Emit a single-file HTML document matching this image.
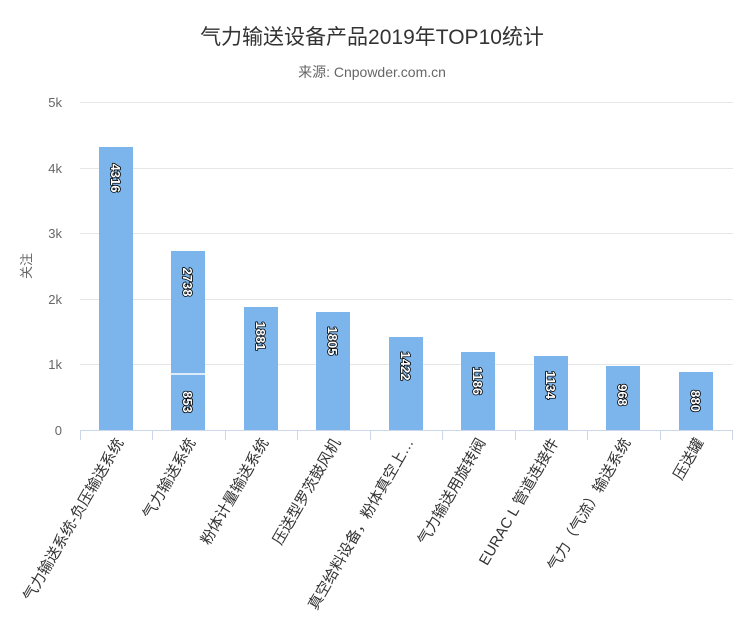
<!DOCTYPE html>
<html><head><meta charset="utf-8"><style>
html,body{margin:0;padding:0;background:#fff;}
text{font-family:"Liberation Sans","Noto Sans CJK SC",sans-serif;}
.v{font-size:13px;font-weight:bold;fill:#fff;stroke:#000;stroke-width:1.6px;paint-order:stroke;stroke-linejoin:round;}
.c{font-size:15px;fill:#333;}
.y{font-size:13px;fill:#666;}
</style></head><body>
<svg width="744" height="623" xmlns="http://www.w3.org/2000/svg">
<text x="372" y="44" text-anchor="middle" style="font-size:21px;fill:#333">气力输送设备产品2019年TOP10统计</text>
<text x="372" y="77" text-anchor="middle" style="font-size:14px;fill:#666">来源: Cnpowder.com.cn</text>
<g stroke="#e6e6e6" stroke-width="1">
<line x1="80" x2="733" y1="102.5" y2="102.5"/>
<line x1="80" x2="733" y1="168.5" y2="168.5"/>
<line x1="80" x2="733" y1="233.5" y2="233.5"/>
<line x1="80" x2="733" y1="299.5" y2="299.5"/>
<line x1="80" x2="733" y1="364.5" y2="364.5"/>
</g>
<line x1="80" x2="733" y1="430.5" y2="430.5" stroke="#ccd6eb"/>
<g stroke="#ccd6eb">
<line x1="80.5" x2="80.5" y1="430" y2="440"/><line x1="152.5" x2="152.5" y1="430" y2="440"/>
<line x1="225.5" x2="225.5" y1="430" y2="440"/><line x1="297.5" x2="297.5" y1="430" y2="440"/>
<line x1="370.5" x2="370.5" y1="430" y2="440"/><line x1="442.5" x2="442.5" y1="430" y2="440"/>
<line x1="515.5" x2="515.5" y1="430" y2="440"/><line x1="587.5" x2="587.5" y1="430" y2="440"/>
<line x1="660.5" x2="660.5" y1="430" y2="440"/><line x1="732.5" x2="732.5" y1="430" y2="440"/>
</g>
<g class="y" text-anchor="end">
<text x="62" y="107">5k</text><text x="62" y="173">4k</text><text x="62" y="238">3k</text>
<text x="62" y="304">2k</text><text x="62" y="369">1k</text><text x="62" y="435">0</text>
</g>
<text transform="translate(31,266) rotate(-90)" text-anchor="middle" style="font-size:13px;fill:#666">关注</text>
<g fill="#7cb5ec">
<rect x="99" y="147" width="34" height="283"/>
<rect x="171" y="251" width="34" height="179"/>
<rect x="244" y="307" width="34" height="123"/>
<rect x="316" y="312" width="34" height="118"/>
<rect x="389" y="337" width="34" height="93"/>
<rect x="461" y="352" width="34" height="78"/>
<rect x="534" y="356" width="34" height="74"/>
<rect x="606" y="366" width="34" height="64"/>
<rect x="679" y="372" width="34" height="58"/>
</g>
<line x1="171" x2="205" y1="374" y2="374" stroke="#fff" stroke-width="1.5"/>
<g class="v" text-anchor="middle">
<text transform="translate(111,178) rotate(90)">4316</text>
<text transform="translate(183,282) rotate(90)">2738</text>
<text transform="translate(183,402) rotate(90)">853</text>
<text transform="translate(256,336) rotate(90)">1881</text>
<text transform="translate(328,341) rotate(90)">1805</text>
<text transform="translate(401,366) rotate(90)">1422</text>
<text transform="translate(473,381) rotate(90)">1186</text>
<text transform="translate(546,385) rotate(90)">1134</text>
<text transform="translate(618,395) rotate(90)">968</text>
<text transform="translate(691,401) rotate(90)">880</text>
</g>
<g class="c" text-anchor="end">
<text transform="translate(124,442) rotate(-60)">气力输送系统-负压输送系统</text>
<text transform="translate(196,442) rotate(-60)">气力输送系统</text>
<text transform="translate(269,442) rotate(-60)">粉体计量输送系统</text>
<text transform="translate(341,442) rotate(-60)">压送型罗茨鼓风机</text>
<text transform="translate(414,442) rotate(-60)">真空给料设备，粉体真空上…</text>
<text transform="translate(486,442) rotate(-60)">气力输送用旋转阀</text>
<text transform="translate(559,442) rotate(-60)">EURAC L 管道连接件</text>
<text transform="translate(631,442) rotate(-60)">气力（气流）输送系统</text>
<text transform="translate(704,442) rotate(-60)">压送罐</text>
</g>
</svg>
</body></html>
